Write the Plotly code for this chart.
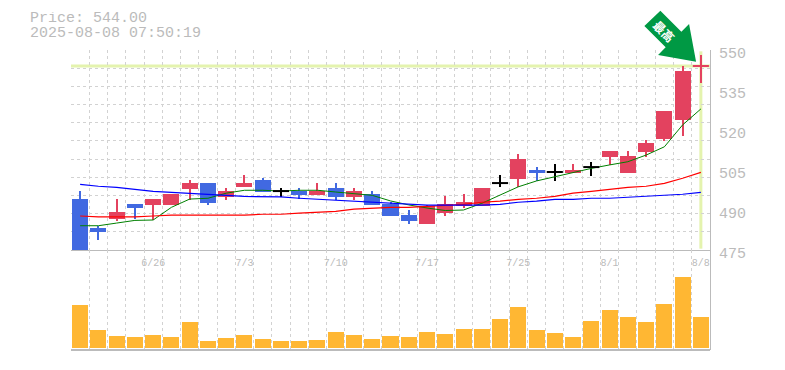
import plotly.graph_objects as go

dates = ["6/20","6/23","6/24","6/25","6/26","6/27","6/30","7/1","7/2","7/3","7/4","7/7","7/8","7/9","7/10","7/11","7/14","7/15","7/16","7/17","7/18","7/22","7/23","7/24","7/25","7/28","7/29","7/30","7/31","8/1","8/4","8/5","8/6","8/7","8/8"]
open_ = [494,483.25,486.6,492.25,491.9,491.9,497.9,500.1,494.9,498.6,501.25,497.1,497.1,495.6,498.25,494.9,496,492.25,488.1,484.75,488.9,491.5,491.5,500.1,501.6,505,504.25,503.9,506.1,509.9,503.9,511.75,516.6,523.75,544]
close = [475,481.75,489.25,490.75,494.1,496,500.1,492.6,497.1,500.1,496.75,497.1,495.6,497.1,494.9,497.1,491.9,487.75,485.9,491.5,492.25,493,498.25,500.1,509.1,503.9,504.25,505,506.1,512.1,510.25,515.1,527.1,542.1,544]
high = [497.1,484,494.1,492.25,494.1,496,501.25,500.1,498.25,503.1,502,498.25,498.25,500.1,500.1,498.25,497.1,493,490,491.9,495.25,496,498.25,503.1,511,506.1,507.25,507.25,508,512.1,512.1,516.25,527.1,544,548.1]
low = [475,478.75,485.9,486.6,486.25,491.9,493.75,491.9,493.75,498.6,496.75,494.9,494.1,495.6,493.75,493.75,491.9,487.75,484.75,484.75,487.75,490.75,491.5,498.6,498.6,500.9,500.9,503.9,502.75,506.9,503.9,509.9,515.9,517.75,537.6]
ma_short = [484.1,484.1,485.1,486.1,486.25,491,494.1,494.4,496.3,497.4,497.4,497.1,497.4,497.4,496.75,496,495.5,493.4,491.9,490.75,489.8,490,492.5,495.6,498.7,500.9,502.5,504,505.6,506.9,508.1,510.6,513.7,521.9,527.9]
ma_mid = [487.75,487.4,487.4,487.4,487.75,488.1,488.1,488.1,488.1,488.1,488.4,488.4,488.8,489.1,489.5,490.3,490.6,491,491,491.4,491.8,492.1,492.9,493.3,494,494.4,495.1,496.3,497,497.8,498.5,498.9,500,501.9,504.1]
ma_long = [499.6,498.9,498.5,497.8,497,496.6,496.3,495.9,495.5,495.1,495.1,494.9,494.4,494,493.6,493.3,492.9,492.5,492.1,491.8,491.8,491.8,491.8,492.1,492.9,493.3,494,494,494.4,494.4,494.8,495.1,495.5,495.9,496.6]
volume = [43,18,12,11,13,11,26,7,10,13,9,7,7,8,16,13,9,12,11,16,14,19,19,29,41,18,15,11,27,38,31,26,44,71,31]
price_ticks = [475,490,505,520,535,550]
date_ticks = ["6/26","7/3","7/10","7/17","7/25","8/1","8/8"]
last_price = 544.0
title_lines = ["Price: 544.00","2025-08-08 07:50:19"]

UP="#E3425F"; DOWN="#4169E1"; DOJI="#000000"; VOL="#FFB733"; HI="#E4F3AE"
GRID="#D2D2D2"; AXIS="#BBBBBB"; TXT="#BBBBBB"
FONT="Liberation Mono, monospace"

idx=list(range(len(dates)))
colors=[DOJI if o==c and i<34 else (UP if c>=o else DOWN) for i,(o,c) in enumerate(zip(open_,close))]

fig=go.Figure()
for ys,col,w in [(ma_short,"#008000",1),(ma_mid,"#FF0000",1.2),(ma_long,"#0000FF",1.2)]:
    fig.add_trace(go.Scatter(x=idx,y=ys,mode="lines",line=dict(color=col,width=w),hoverinfo="skip"))
fig.add_trace(go.Bar(x=idx,y=[h-l for h,l in zip(high,low)],base=low,width=0.11,marker=dict(color=colors,line_width=0)))
fig.add_trace(go.Bar(x=idx,y=[abs(c-o) for o,c in zip(open_,close)],base=[min(o,c) for o,c in zip(open_,close)],width=0.877,marker=dict(color=colors,line_width=0)))
dj=[i for i in idx if open_[i]==close[i]]
fig.add_trace(go.Scatter(x=dj,y=[open_[i] for i in dj],mode="markers",
    marker=dict(symbol="line-ew",size=11.5,line=dict(width=2,color=[colors[i] for i in dj]))))
fig.add_trace(go.Bar(x=idx,y=volume,width=0.877,marker=dict(color=VOL,line_width=0),xaxis="x2",yaxis="y2"))

W,H=785,370
L,R=71/W,710/W
xr=[-0.5,34.5]
grid=dict(showgrid=True,gridcolor=GRID,griddash="3px,3px",gridwidth=1)
fig.update_layout(
    template="none",
    width=W,height=H,margin=dict(l=0,r=0,t=0,b=0,pad=0,autoexpand=False),paper_bgcolor="white",plot_bgcolor="white",
    showlegend=False,barmode="overlay",bargap=0,font=dict(family=FONT,color=TXT),
    xaxis=dict(domain=[L,R],range=xr,anchor="y",tickvals=[],showline=True,linecolor=AXIS,linewidth=1,zeroline=False,showgrid=False,automargin=False,
        minor=dict(dtick=1,tick0=-0.5,ticks="",**grid)),
    yaxis=dict(domain=[1-250/H,1-50/H],range=[475,550],anchor="x",side="right",tickvals=price_ticks,ticks="",showgrid=False,zeroline=False,automargin=False,
        showline=True,linecolor=AXIS,linewidth=1,tickfont=dict(size=15,family=FONT,color=TXT),ticklabelposition="outside",
        ticklabelstandoff=5,ticklabelshift=3,
        minor=dict(dtick=75/11,tick0=475,ticks="",**grid)),
    xaxis2=dict(domain=[L,R],range=xr,anchor="y2",side="top",tickvals=[dates.index(d) for d in date_ticks],ticktext=date_ticks,
        ticks="",ticklabelposition="inside",showgrid=False,zeroline=False,showline=False,automargin=False,
        ticklabelstandoff=6,tickfont=dict(size=10,family=FONT,color=TXT),
        minor=dict(dtick=1,tick0=-0.5,ticks="",**grid)),
    yaxis2=dict(domain=[1-350/H,1-250/H],range=[-2,98],anchor="x2",side="right",showticklabels=False,ticks="",showgrid=False,zeroline=False,automargin=False,
        showline=True,linecolor=AXIS,linewidth=1),
)
fig.add_shape(type="line",xref="x2 domain",yref="y2 domain",x0=0,x1=1,y0=0,y1=0,line=dict(color=AXIS,width=2),layer="above")
fig.add_shape(type="line",xref="x domain",yref="y",x0=0,x1=1,y0=last_price,y1=last_price,line=dict(color=HI,width=3),layer="below")
fig.add_shape(type="line",xref="x",yref="y",x0=idx[-1],x1=idx[-1],y0=475.5,y1=549.5,line=dict(color=HI,width=3),layer="below")
arrow=[(-40.5,55.3),(-19.5,34.3),(-11.8,42),(-4.8,4.3),(-42.8,11),(-35.2,18.7),(-56.5,40)]
path="M "+" L ".join(f"{a},{b}" for a,b in arrow)+" Z"
ax=L+(R-L)*(idx[-1]-xr[0])/(xr[1]-xr[0])
ay=(1-250/H)+(200/H)*(last_price-475)/75
fig.add_shape(type="path",xref="paper",yref="paper",xsizemode="pixel",ysizemode="pixel",xanchor=ax,yanchor=ay,path=path,
    fillcolor="#009944",line_width=0,layer="above")
fig.add_annotation(xref="x",yref="y",x=idx[-1],y=last_price,xshift=-37,yshift=35,text="<b>最高</b>",textangle=45,showarrow=False,
    font=dict(family="Noto Sans CJK JP",size=12,color="white"))
for line,yc in zip(title_lines,[18,33]):
    fig.add_annotation(xref="paper",yref="paper",x=30/W,y=1-yc/H,xanchor="left",yanchor="middle",align="left",showarrow=False,
        height=12,borderpad=0,borderwidth=0,text=line,font=dict(family=FONT,size=15,color=TXT))
fig.write_html("out.html",config=dict(displayModeBar=False),post_script="document.body.style.margin='0';")
